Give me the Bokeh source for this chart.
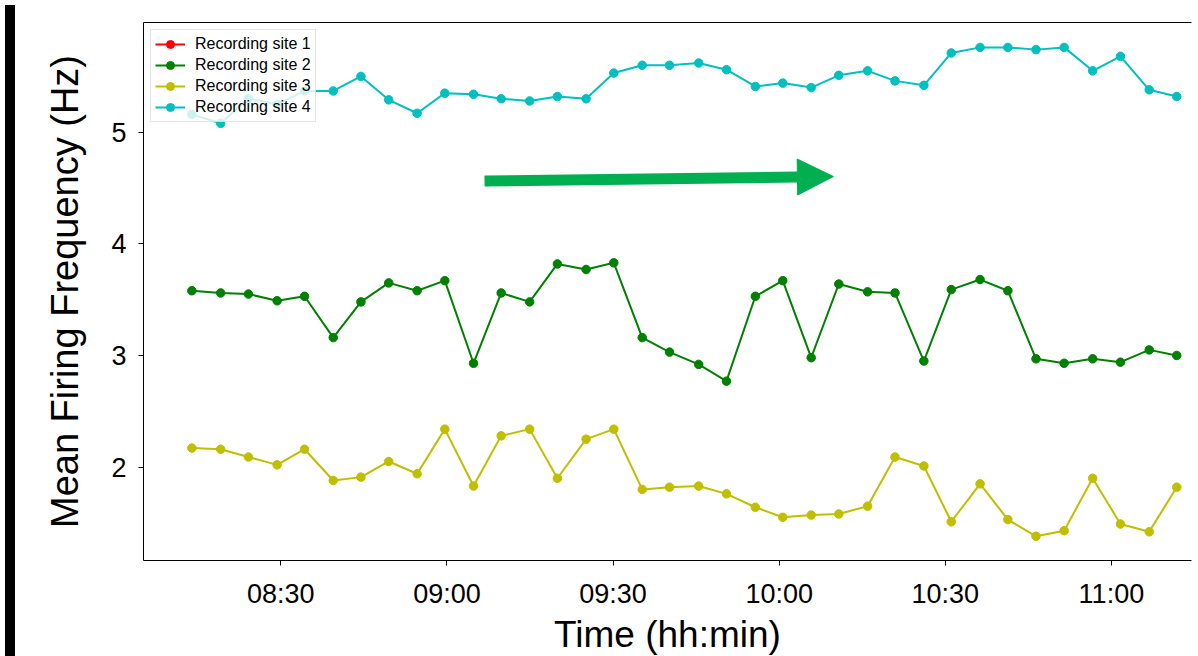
import pandas as pd
from bokeh.plotting import figure
from bokeh.models import (Range1d, FixedTicker, DatetimeTickFormatter, LinearAxis,
                          Arrow, NormalHead, Div, Title)
from bokeh.layouts import row
from bokeh.embed import file_html
from bokeh.resources import INLINE

DAY = "2018-01-01 "

times = ["08:13:56", "08:19:08", "08:24:09", "08:29:20", "08:34:17", "08:39:28",
         "08:44:28", "08:49:29", "08:54:37", "08:59:37", "09:04:48", "09:09:48",
         "09:14:56", "09:19:57", "09:25:08", "09:30:08", "09:35:16", "09:40:12",
         "09:45:28", "09:50:29", "09:55:42", "10:00:39", "10:05:47", "10:10:46",
         "10:15:58", "10:20:55", "10:26:08", "10:31:05", "10:36:17", "10:41:18",
         "10:46:23", "10:51:28", "10:56:37", "11:01:38", "11:06:50", "11:11:48"]

# recording site 1 has no value inside the plotted range (legend entry only)
site1 = [float("nan")] * len(times)
site2 = [3.58, 3.56, 3.55, 3.49, 3.53, 3.16, 3.48, 3.65, 3.58, 3.67,
         2.93, 3.56, 3.48, 3.82, 3.77, 3.83, 3.16, 3.03, 2.92, 2.77,
         3.53, 3.67, 2.98, 3.64, 3.57, 3.56, 2.95, 3.59, 3.68, 3.58,
         2.97, 2.93, 2.97, 2.94, 3.05, 3.00]
site3 = [2.17, 2.16, 2.09, 2.02, 2.16, 1.88, 1.91, 2.05, 1.94, 2.34,
         1.83, 2.28, 2.34, 1.90, 2.25, 2.34, 1.80, 1.82, 1.83, 1.76,
         1.64, 1.55, 1.57, 1.58, 1.65, 2.09, 2.01, 1.51, 1.85, 1.53,
         1.38, 1.43, 1.90, 1.49, 1.42, 1.82]
site4 = [5.16, 5.08, 5.30, 5.25, 5.37, 5.37, 5.50, 5.29, 5.17, 5.35,
         5.34, 5.30, 5.28, 5.32, 5.30, 5.53, 5.60, 5.60, 5.62, 5.56,
         5.41, 5.44, 5.40, 5.51, 5.55, 5.46, 5.42, 5.71, 5.76, 5.76,
         5.74, 5.76, 5.55, 5.68, 5.38, 5.32]

series_names = ["Recording site 1", "Recording site 2", "Recording site 3", "Recording site 4"]
series_colors = ["#FF0000", "#008000", "#BFBF00", "#00BFBF"]

x_tick_labels = ["08:30", "09:00", "09:30", "10:00", "10:30", "11:00"]
y_ticks = [2, 3, 4, 5]

x_title = "Time (hh:min)"
y_title = "Mean Firing Frequency (Hz)"

x_start, x_end = "08:05:12", "11:14:28"
y_start, y_end = 1.163, 5.983

arrow_from = ("09:06:47", 4.562)
arrow_to = ("10:09:48", 4.603)

FONT = "Liberation Sans"


def ts(s):
    return pd.Timestamp(DAY + s)


def ms(s):
    return ts(s).value / 1e6


t = [ts(s) for s in times]

p = figure(width=1172, height=656, x_axis_type="datetime",
           output_backend="svg", toolbar_location=None,
           x_range=Range1d(ts(x_start), ts(x_end)),
           y_range=Range1d(y_start, y_end),
           min_border_left=123, min_border_right=1,
           min_border_top=22, min_border_bottom=96)

p.xgrid.visible = False
p.ygrid.visible = False
p.outline_line_color = None
p.background_fill_color = "white"
p.border_fill_color = "white"

all_data = [site1, site2, site3, site4]
for name, col, vals in zip(series_names, series_colors, all_data):
    p.line(t, vals, line_color=col, line_width=2, legend_label=name)
    p.scatter(t, vals, size=8.5, fill_color=col, line_color=col, legend_label=name)

# axes
p.xaxis.ticker = FixedTicker(ticks=[ms(s) for s in x_tick_labels])
p.xaxis.formatter = DatetimeTickFormatter(minutes="%H:%M", hourmin="%H:%M", hours="%H:%M",
                                          minsec="%H:%M", seconds="%H:%M")
p.yaxis.ticker = FixedTicker(ticks=y_ticks)

for ax in (p.xaxis[0], p.yaxis[0]):
    ax.axis_line_color = "black"
    ax.axis_line_width = 1
    ax.major_tick_line_color = "black"
    ax.major_tick_in = 0
    ax.major_tick_out = 5
    ax.minor_tick_line_color = None
    ax.major_label_text_font = FONT
    ax.major_label_text_font_size = "27px"
    ax.major_label_text_color = "black"
    ax.axis_label_text_font = FONT
    ax.axis_label_text_font_style = "normal"
    ax.axis_label_text_color = "black"

p.xaxis.major_label_standoff = 13

p.yaxis.axis_label = y_title
p.yaxis.axis_label_text_font_size = "38px"
p.yaxis.major_label_standoff = 12
p.yaxis.axis_label_standoff = 22

# x title: centred under the original (wider, cropped) axes, so shifted right
p.add_layout(Title(text=x_title, align="center", offset=32, standoff=0,
                   text_font=FONT, text_font_size="37px", text_font_style="normal",
                   text_color="black"), "below")

# top frame line only (the right side of the original figure is cropped off)
top = LinearAxis(ticker=FixedTicker(ticks=[]), major_label_text_font_size="0px",
                 major_tick_in=0, major_tick_out=0, minor_tick_in=0, minor_tick_out=0,
                 major_label_standoff=0, axis_line_color="black", axis_line_width=1)
p.add_layout(top, "above")

# arrow annotation
p.add_layout(Arrow(end=NormalHead(size=36, fill_color="#00B050", line_color="#00B050"),
                   x_start=ms(arrow_from[0]), y_start=arrow_from[1],
                   x_end=ms(arrow_to[0]), y_end=arrow_to[1],
                   line_color="#00B050", line_width=11))

lg = p.legend[0]
lg.location = "top_left"
lg.margin = 7
lg.padding = 4
lg.spacing = 1
lg.label_text_font = FONT
lg.label_text_font_size = "16px"
lg.label_text_color = "black"
lg.glyph_width = 30
lg.glyph_height = 20
lg.label_height = 20
lg.label_standoff = 10
lg.border_line_color = "#cccccc"
lg.border_line_width = 1
lg.background_fill_alpha = 0.8

bar = Div(width=10, height=656, styles={"background-color": "black"})

layout = row(bar, p)

open("out.html", "w").write(file_html(layout, INLINE))
